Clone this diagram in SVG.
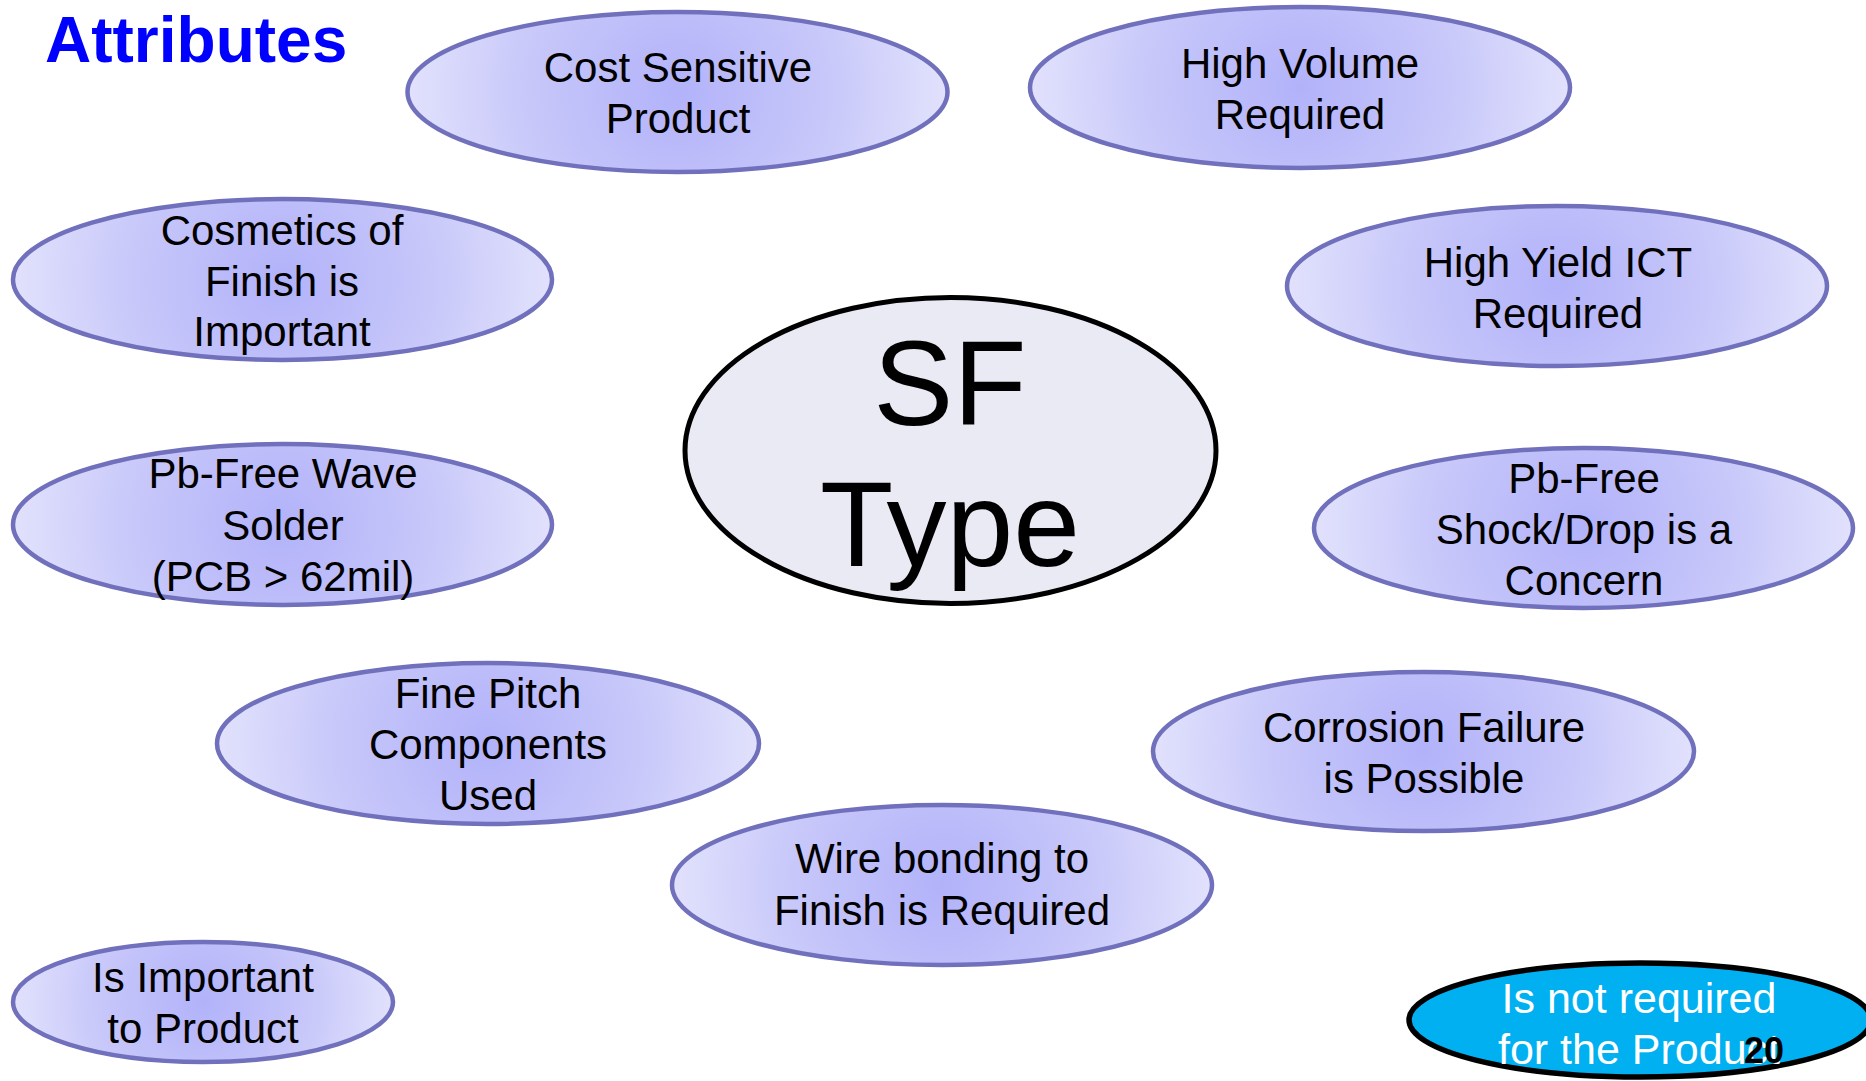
<svg xmlns="http://www.w3.org/2000/svg" width="1866" height="1081" viewBox="0 0 1866 1081">
  <defs>
    <!-- circular "path" shading: darker periwinkle centre fading to pale edges -->
    <radialGradient id="lav" cx="0.5" cy="0.5" r="0.52" gradientTransform="translate(0.5 0.5) scale(1 3.32) translate(-0.5 -0.5)">
      <stop offset="0" stop-color="#b2b2fa"/>
      <stop offset="0.55" stop-color="#c8c8fa"/>
      <stop offset="1" stop-color="#e4e4fd"/>
    </radialGradient>
    <radialGradient id="lavSmall" cx="0.5" cy="0.5" r="0.52" gradientTransform="translate(0.5 0.5) scale(1 3.17) translate(-0.5 -0.5)">
      <stop offset="0" stop-color="#b2b2fa"/>
      <stop offset="0.55" stop-color="#c8c8fa"/>
      <stop offset="1" stop-color="#e4e4fd"/>
    </radialGradient>
    <style>
      .attr { fill: url(#lav); stroke: #7070bc; stroke-width: 4.5; }
      .attr-sm { fill: url(#lavSmall); stroke: #7070bc; stroke-width: 4.5; }
      .lbl { font-family: "Liberation Sans", Arial, sans-serif; font-size: 42px; fill: #000; text-anchor: middle; }
      .core { fill: #eaeaf5; stroke: #000; stroke-width: 5; }
      .core-lbl { font-family: "Liberation Sans", Arial, sans-serif; font-size: 120px; fill: #000; text-anchor: middle; }
      .key { fill: #00b0f0; stroke: #000; stroke-width: 5.5; }
      .key-lbl { font-family: "Liberation Sans", Arial, sans-serif; font-size: 43px; fill: #fff; text-anchor: middle; }
      .title { font-family: "Liberation Sans", Arial, sans-serif; font-size: 64px; font-weight: bold; fill: #0000ff; }
      .page { font-family: "Liberation Sans", Arial, sans-serif; font-size: 36px; font-weight: bold; fill: #000; }
    </style>
  </defs>

  <rect width="1866" height="1081" fill="#ffffff"/>

  <text class="title" x="45" y="62">Attributes</text>

  <!-- no connectors between the attribute bubbles -->
  <g id="connectors"/>

  <g id="sf-type">
    <ellipse class="core" cx="950.5" cy="450.5" rx="265.5" ry="153"/>
    <text class="core-lbl" x="950" y="425">SF</text>
    <text class="core-lbl" x="950" y="566">Type</text>
  </g>

  <g id="cost-sensitive">
    <ellipse class="attr" cx="677.5" cy="92" rx="270" ry="80"/>
    <text class="lbl" x="678" y="82">Cost Sensitive</text>
    <text class="lbl" x="678" y="133">Product</text>
  </g>

  <g id="high-volume">
    <ellipse class="attr" cx="1300" cy="87.5" rx="270" ry="80.5"/>
    <text class="lbl" x="1300" y="78">High Volume</text>
    <text class="lbl" x="1300" y="129">Required</text>
  </g>

  <g id="cosmetics">
    <ellipse class="attr" cx="282.5" cy="279.5" rx="269.5" ry="80.5"/>
    <text class="lbl" x="282" y="245">Cosmetics of</text>
    <text class="lbl" x="282" y="296">Finish is</text>
    <text class="lbl" x="282" y="346">Important</text>
  </g>

  <g id="high-yield-ict">
    <ellipse class="attr" cx="1557" cy="286" rx="270" ry="80"/>
    <text class="lbl" x="1558" y="277">High Yield ICT</text>
    <text class="lbl" x="1558" y="328">Required</text>
  </g>

  <g id="pb-free-wave">
    <ellipse class="attr" cx="282.5" cy="524.5" rx="269.5" ry="80.5"/>
    <text class="lbl" x="283" y="488">Pb-Free Wave</text>
    <text class="lbl" x="283" y="540">Solder</text>
    <text class="lbl" x="283" y="591">(PCB &gt; 62mil)</text>
  </g>

  <g id="pb-free-shock">
    <ellipse class="attr" cx="1583.5" cy="528" rx="269.5" ry="80"/>
    <text class="lbl" x="1584" y="493">Pb-Free</text>
    <text class="lbl" x="1584" y="544">Shock/Drop is a</text>
    <text class="lbl" x="1584" y="595">Concern</text>
  </g>

  <g id="fine-pitch">
    <ellipse class="attr" cx="488" cy="743.5" rx="271" ry="80.5"/>
    <text class="lbl" x="488" y="708">Fine Pitch</text>
    <text class="lbl" x="488" y="759">Components</text>
    <text class="lbl" x="488" y="810">Used</text>
  </g>

  <g id="corrosion">
    <ellipse class="attr" cx="1423.5" cy="751.5" rx="270.5" ry="79.5"/>
    <text class="lbl" x="1424" y="742">Corrosion Failure</text>
    <text class="lbl" x="1424" y="793">is Possible</text>
  </g>

  <g id="wire-bonding">
    <ellipse class="attr" cx="942" cy="885" rx="270" ry="80"/>
    <text class="lbl" x="942" y="873">Wire bonding to</text>
    <text class="lbl" x="942" y="925">Finish is Required</text>
  </g>

  <!-- legend bubbles -->
  <g id="legend-important">
    <ellipse class="attr-sm" cx="203" cy="1002" rx="190" ry="60"/>
    <text class="lbl" x="203" y="992">Is Important</text>
    <text class="lbl" x="203" y="1043">to Product</text>
  </g>

  <g id="legend-not-required">
    <ellipse class="key" cx="1640" cy="1020" rx="231" ry="57"/>
    <text class="key-lbl" x="1639" y="1013">Is not required</text>
    <text class="key-lbl" x="1639" y="1064">for the Product</text>
  </g>

  <text class="page" x="1744" y="1063">20</text>
</svg>
